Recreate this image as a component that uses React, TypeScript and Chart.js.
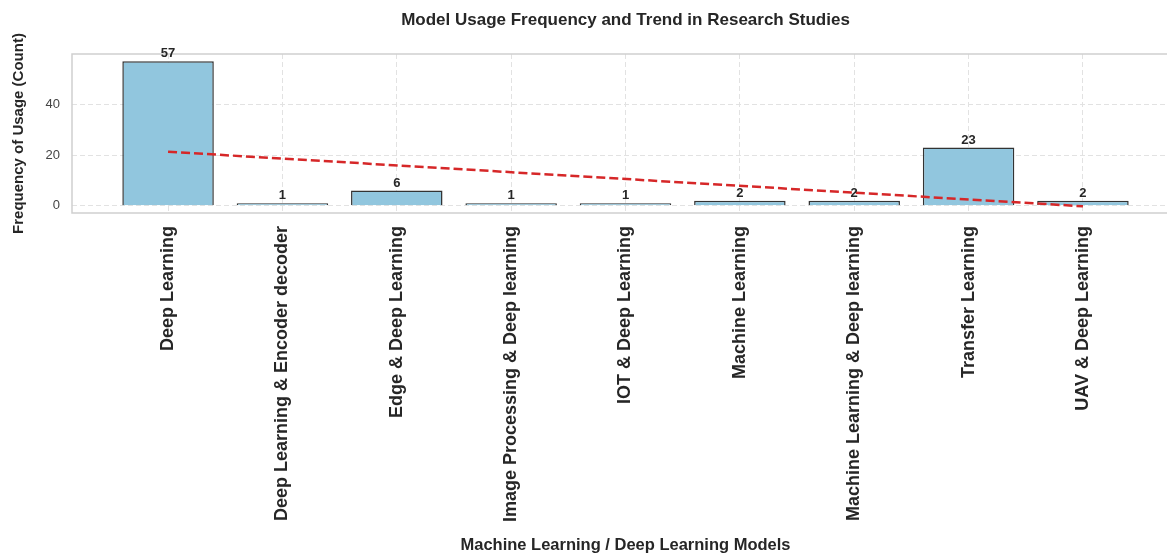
import React, { useEffect, useRef } from "react";
import { Chart, registerables } from "chart.js";

Chart.register(...registerables);

const categories = [
  "Deep Learning",
  "Deep Learning & Encoder decoder",
  "Edge & Deep Learning",
  "Image Processing & Deep learning",
  "IOT & Deep Learning",
  "Machine Learning",
  "Machine Learning & Deep learning",
  "Transfer Learning",
  "UAV & Deep Learning",
];
const usageCounts = [57, 1, 6, 1, 1, 2, 2, 23, 2];
const trendX = [0, 8];
const trendY = [21.3, -0.2];
const yTickValues = [0, 20, 40];

const TEXT = "#262626";
const GRID = "#e2e2e2";

const framePlugin = {
  id: "frame",
  beforeDatasetsDraw(chart: any) {
    const { ctx, chartArea: a } = chart;
    ctx.save();
    ctx.strokeStyle = "#cfcfcf";
    ctx.lineWidth = 1.5;
    ctx.strokeRect(a.left, a.top, a.right - a.left, a.bottom - a.top);
    ctx.restore();
  },
};

const valueLabelPlugin = {
  id: "valueLabels",
  afterDatasetsDraw(chart: any) {
    const { ctx } = chart;
    const meta = chart.getDatasetMeta(0);
    ctx.save();
    ctx.font = "bold 13px 'Liberation Sans', Arial, sans-serif";
    ctx.fillStyle = TEXT;
    ctx.textAlign = "center";
    ctx.textBaseline = "bottom";
    meta.data.forEach((bar: any, i: number) => {
      ctx.fillText(String(usageCounts[i]), bar.x, bar.y - 1);
    });
    ctx.restore();
  },
};

export default function App() {
  const ref = useRef<HTMLCanvasElement | null>(null);

  useEffect(() => {
    if (!ref.current) return;
    Chart.defaults.font.family = "'Liberation Sans', Arial, sans-serif";
    const chart = new Chart(ref.current, {
      type: "bar",
      data: {
        datasets: [
          {
            type: "bar",
            data: categories.map((_, i) => ({ x: i, y: usageCounts[i] })),
            backgroundColor: "rgb(145,198,222)",
            borderColor: "#333333",
            borderWidth: 1.5,
            categoryPercentage: 1,
            barPercentage: 0.8,
            order: 2,
          } as any,
          {
            type: "line",
            data: trendX.map((x, i) => ({ x, y: trendY[i] })),
            borderColor: "#d62728",
            borderWidth: 2.5,
            borderDash: [9, 4],
            pointRadius: 0,
            fill: false,
            order: 1,
          } as any,
        ],
      },
      options: {
        responsive: false,
        animation: false,
        layout: { padding: { right: 51 } },
        plugins: {
          legend: { display: false },
          tooltip: { enabled: false },
          title: {
            display: true,
            fullSize: false,
            text: "Model Usage Frequency and Trend in Research Studies",
            color: TEXT,
            font: { size: 17, weight: "bold" },
            padding: { top: 10, bottom: 23.6 },
          },
        },
        scales: {
          x: {
            type: "linear",
            offset: false,
            min: -0.84,
            max: 8.84,
            afterBuildTicks: (s: any) => {
              s.ticks = categories.map((_, i) => ({ value: i }));
            },
            afterFit: (s: any) => {
              s.height = 341;
            },
            ticks: {
              autoSkip: false,
              maxRotation: 90,
              minRotation: 90,
              padding: 13,
              color: TEXT,
              font: { size: 18, weight: "bold" },
              callback: (v: any) => categories[v as number] ?? "",
            },
            grid: { offset: false, color: GRID, lineWidth: 1, drawTicks: false },
            border: { display: false, dash: [5, 3] },
            title: {
              display: true,
              text: "Machine Learning / Deep Learning Models",
              color: TEXT,
              font: { size: 16.5, weight: "bold", lineHeight: 1 },
              padding: { top: 0, bottom: 0 },
            },
          },
          y: {
            min: -2.85,
            max: 59.85,
            afterBuildTicks: (s: any) => {
              s.ticks = yTickValues.map((v) => ({ value: v }));
            },
            afterFit: (s: any) => {
              s.width = 72;
            },
            ticks: { padding: 12, color: "#444444", font: { size: 13 } },
            grid: { color: GRID, lineWidth: 1, drawTicks: false },
            border: { display: false, dash: [5, 3] },
            title: {
              display: true,
              text: "Frequency of Usage (Count)",
              color: TEXT,
              font: { size: 15, weight: "bold" },
              padding: { top: 10, bottom: 0 },
            },
          },
        },
      } as any,
      plugins: [framePlugin, valueLabelPlugin],
    });
    return () => chart.destroy();
  }, []);

  return (
    <div
      style={{
        position: "fixed",
        left: 0,
        top: 0,
        width: 1167,
        height: 554,
        overflow: "hidden",
        background: "#ffffff",
      }}
    >
      <canvas ref={ref} width={1230} height={554} style={{ display: "block" }} />
    </div>
  );
}
